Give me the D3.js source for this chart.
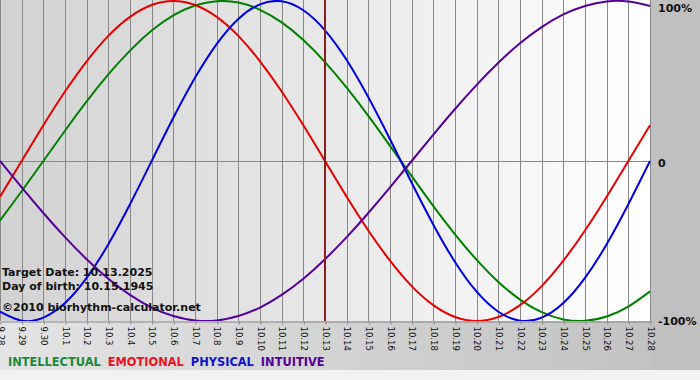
<!DOCTYPE html>
<html><head><meta charset="utf-8">
<script src="https://cdn.jsdelivr.net/npm/d3@7"></script>
<style>body{margin:0;background:#fff}svg{display:block}</style>
</head><body>
<script>
const dayLabels = ["9.28","9.29","9.30","10.1","10.2","10.3","10.4","10.5","10.6","10.7","10.8","10.9","10.10","10.11","10.12","10.13","10.14","10.15","10.16","10.17","10.18","10.19","10.20","10.21","10.22","10.23","10.24","10.25","10.26","10.27","10.28"];
const intellectual = [-0.372,-0.189,0,0.189,0.372,0.541,0.690,0.815,0.910,0.972,0.999,0.990,0.945,0.866,0.756,0.618,0.458,0.282,0.095,-0.095,-0.282,-0.458,-0.618,-0.756,-0.866,-0.945,-0.990,-0.999,-0.972,-0.910,-0.815];
const emotional = [-0.223,0,0.223,0.434,0.623,0.782,0.901,0.975,1,0.975,0.901,0.782,0.623,0.434,0.223,0,-0.223,-0.434,-0.623,-0.782,-0.901,-0.975,-1,-0.975,-0.901,-0.782,-0.623,-0.434,-0.223,0,0.223];
const physical = [-0.942,-0.998,-0.979,-0.888,-0.731,-0.520,-0.270,0,0.270,0.520,0.731,0.888,0.979,0.998,0.942,0.817,0.631,0.398,0.136,-0.136,-0.398,-0.631,-0.817,-0.942,-0.998,-0.979,-0.888,-0.731,-0.520,-0.270,0];
const intuitive = [0,-0.165,-0.325,-0.476,-0.614,-0.736,-0.837,-0.916,-0.969,-0.997,-0.997,-0.969,-0.916,-0.837,-0.736,-0.614,-0.476,-0.325,-0.165,0,0.165,0.325,0.476,0.614,0.736,0.837,0.916,0.969,0.997,0.997,0.969];
const yTickValues = [1, 0, -1];
const yTickLabels = ["100%", "0", "-100%"];
const targetDay = "10.13";
const infoLines = ["Target Date: 10.13.2025", "Day of birth: 10.15.1945", "\u00A92010 biorhythm-calculator.net"];
const seriesNames = ["INTELLECTUAL", "EMOTIONAL", "PHYSICAL", "INTUITIVE"];

const seriesData = [intellectual, emotional, physical, intuitive];
const lineColors = ["#008000", "#e80000", "#0000e0", "#550099"];
const legendColors = ["#1a8a3a", "#ee1122", "#1111cc", "#550099"];

const W = 700, H = 380, plotW = 650, plotH = 321;
const svg = d3.select("body").append("svg").attr("width", W).attr("height", H);
const defs = svg.append("defs");

const g1 = defs.append("linearGradient").attr("id", "plotbg").attr("x1", 0).attr("x2", 1).attr("y1", 0).attr("y2", 0);
g1.append("stop").attr("offset", 0).attr("stop-color", "#d2d2d2");
g1.append("stop").attr("offset", 1).attr("stop-color", "#ffffff");
const g2 = defs.append("linearGradient").attr("id", "botbg").attr("x1", 0).attr("x2", 1).attr("y1", 0).attr("y2", 0);
g2.append("stop").attr("offset", 0).attr("stop-color", "#e4e4e4");
g2.append("stop").attr("offset", 1).attr("stop-color", "#c0c0c0");
defs.append("clipPath").attr("id", "clip").append("rect").attr("x", 0).attr("y", 0).attr("width", plotW + 1).attr("height", plotH);

svg.append("rect").attr("width", W).attr("height", H).attr("fill", "#f2f2f2");
svg.append("rect").attr("x", 0).attr("y", plotH).attr("width", W).attr("height", 49).attr("fill", "url(#botbg)");
svg.append("rect").attr("x", plotW).attr("y", 0).attr("width", W - plotW).attr("height", 370).attr("fill", "#c0c0c0");
svg.append("rect").attr("x", 0).attr("y", 0).attr("width", plotW).attr("height", plotH).attr("fill", "url(#plotbg)");

const x = d3.scalePoint().domain(dayLabels).range([0, plotW]);
const y = d3.scaleLinear().domain([-1, 1]).range([plotH, 1]);

// vertical grid
svg.append("g").selectAll("line").data(dayLabels).join("line")
  .attr("x1", d => Math.round(x(d)) + 0.5).attr("x2", d => Math.round(x(d)) + 0.5)
  .attr("y1", 0).attr("y2", plotH)
  .attr("stroke", "#888").attr("stroke-width", 1);
// zero line
svg.append("line").attr("x1", 0).attr("x2", plotW).attr("y1", Math.floor(y(0)) + 0.5).attr("y2", Math.floor(y(0)) + 0.5)
  .attr("stroke", "#888");

// bottom axis
const xAxis = svg.append("g").attr("transform", `translate(0.5,${plotH + 0.5})`)
  .call(d3.axisBottom(x).tickSize(3).tickSizeOuter(0));
xAxis.select(".domain").attr("stroke", "#888");
xAxis.selectAll(".tick line").attr("stroke", "#888");
xAxis.selectAll(".tick text")
  .attr("transform", "rotate(90)").attr("x", 5).attr("y", 0).attr("dy", "0.35em")
  .attr("text-anchor", "start").attr("fill", "#111")
  .style("font-family", "'DejaVu Sans Condensed', 'DejaVu Sans', sans-serif").style("font-size", "9.5px");

// lines
const line = d3.line().x((d, i) => x(dayLabels[i])).y(d => y(d)).curve(d3.curveNatural);
const lg = svg.append("g").attr("clip-path", "url(#clip)");
seriesData.forEach((s, i) => {
  lg.append("path").datum(s).attr("d", line).attr("fill", "none")
    .attr("stroke", lineColors[i]).attr("stroke-width", 2);
});

// target line
svg.append("line").attr("x1", x(targetDay)).attr("x2", x(targetDay)).attr("y1", 0).attr("y2", plotH)
  .attr("stroke", "#8b1c1c").attr("stroke-width", 2);

// right axis labels
const yAxis = svg.append("g").attr("transform", `translate(${plotW + 8},0)`)
  .call(d3.axisRight(y).tickValues(yTickValues).tickFormat((d, i) => yTickLabels[i]).tickSize(0).tickPadding(0));
yAxis.select(".domain").remove();
yAxis.selectAll(".tick text").attr("fill", "#111").attr("font-weight", "bold")
  .style("font-family", "'DejaVu Sans', sans-serif").style("font-size", "11px");
yAxis.selectAll(".tick").filter(d => d === 1).select("text").attr("dy", "0.95em");
yAxis.selectAll(".tick").filter(d => d === 0).select("text").attr("dy", "0.5em");

// info text
svg.append("g").selectAll("text").data(infoLines).join("text")
  .attr("x", 2).attr("y", (d, i) => [276, 290, 311][i])
  .attr("fill", "#111").attr("font-weight", "bold")
  .style("font-family", "'DejaVu Sans', sans-serif").style("font-size", "11px")
  .text(d => d);

// legend
let lx = 8;
seriesNames.forEach((n, i) => {
  const t = svg.append("text").attr("x", lx).attr("y", 366).attr("font-weight", "bold")
    .attr("fill", legendColors[i])
    .style("font-family", "'DejaVu Sans', sans-serif").style("font-size", "11.4px").text(n);
  lx += t.node().getComputedTextLength() + 7;
});
</script>
</body></html>
